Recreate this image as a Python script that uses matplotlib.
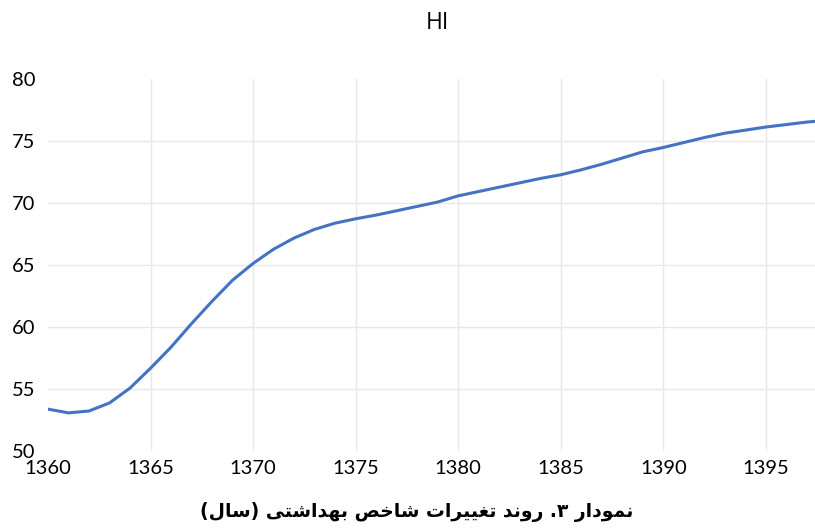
import matplotlib
matplotlib.use("Agg")
import matplotlib.pyplot as plt

# HI index per year
years = [1360, 1361, 1362, 1363, 1364, 1365, 1366, 1367, 1368, 1369,
         1370, 1371, 1372, 1373, 1374, 1375, 1376, 1377, 1378, 1379,
         1380, 1381, 1382, 1383, 1384, 1385, 1386, 1387, 1388, 1389,
         1390, 1391, 1392, 1393, 1394, 1395, 1396, 1397, 1398]
hi = [53.4, 53.1, 53.25, 53.9, 55.1, 56.7, 58.4, 60.3, 62.1, 63.8,
      65.15, 66.3, 67.2, 67.9, 68.4, 68.75, 69.05, 69.4, 69.75, 70.1,
      70.6, 70.95, 71.3, 71.65, 72.0, 72.3, 72.7, 73.15, 73.65, 74.15,
      74.5, 74.9, 75.3, 75.65, 75.9, 76.15, 76.35, 76.55, 76.7]
x_ticks = [1360, 1365, 1370, 1375, 1380, 1385, 1390, 1395]
y_ticks = [50, 55, 60, 65, 70, 75, 80]

title = "HI"
caption = "نمودار ۳. روند تغییرات شاخص بهداشتی (سال)"

# matplotlib has no arabic shaping, so do it by hand: (iso, fin, ini, med)
FORMS = {
    "ا": (0xFE8D, 0xFE8E, None, None),
    "ب": (0xFE8F, 0xFE90, 0xFE91, 0xFE92),
    "ت": (0xFE95, 0xFE96, 0xFE97, 0xFE98),
    "خ": (0xFEA5, 0xFEA6, 0xFEA7, 0xFEA8),
    "د": (0xFEA9, 0xFEAA, None, None),
    "ر": (0xFEAD, 0xFEAE, None, None),
    "س": (0xFEB1, 0xFEB2, 0xFEB3, 0xFEB4),
    "ش": (0xFEB5, 0xFEB6, 0xFEB7, 0xFEB8),
    "ص": (0xFEB9, 0xFEBA, 0xFEBB, 0xFEBC),
    "غ": (0xFECD, 0xFECE, 0xFECF, 0xFED0),
    "ل": (0xFEDD, 0xFEDE, 0xFEDF, 0xFEE0),
    "م": (0xFEE1, 0xFEE2, 0xFEE3, 0xFEE4),
    "ن": (0xFEE5, 0xFEE6, 0xFEE7, 0xFEE8),
    "ه": (0xFEE9, 0xFEEA, 0xFEEB, 0xFEEC),
    "و": (0xFEED, 0xFEEE, None, None),
    "ی": (0xFEEF, 0xFEF0, 0xFEF3, 0xFEF4),
}


def shape_rtl(text):
    out = []
    for i, ch in enumerate(text):
        if ch not in FORMS:
            out.append(ch)
            continue
        prev = text[i - 1] if i > 0 else ""
        nxt = text[i + 1] if i + 1 < len(text) else ""
        join_prev = prev in FORMS and FORMS[prev][2] is not None
        join_next = nxt in FORMS and FORMS[ch][2] is not None
        iso, fin, ini, med = FORMS[ch]
        if join_prev and join_next:
            out.append(chr(med))
        elif join_prev:
            out.append(chr(fin))
        elif join_next:
            out.append(chr(ini))
        else:
            out.append(chr(iso))
    vis = "".join(reversed(out))
    return vis.translate(str.maketrans("()", ")("))


W, H = 815, 529
fig = plt.figure(figsize=(W / 100, H / 100), dpi=100)
ax = fig.add_axes([48 / W, (H - 451.3) / H, 1 - 48 / W, (451.3 - 79.3) / H])

ax.plot(years, hi, color="#4472C4", linewidth=2.2, solid_capstyle="round",
        solid_joinstyle="round", zorder=3)

ax.set_xlim(1360, 1397.4)
ax.set_ylim(50, 80)
ax.set_xticks(x_ticks)
ax.set_yticks(y_ticks)
ax.grid(True, color="#e8e8e8", linewidth=1.0, zorder=0)
# excel leaves out the border lines
ax.xaxis.get_gridlines()[0].set_visible(False)
ax.yaxis.get_gridlines()[0].set_visible(False)
ax.yaxis.get_gridlines()[-1].set_visible(False)
for s in ax.spines.values():
    s.set_visible(False)
ax.tick_params(length=0, labelsize=14.5, colors="black")
ax.tick_params(axis="y", pad=9)
ax.tick_params(axis="x", pad=6)
for lab in ax.get_xticklabels() + ax.get_yticklabels():
    lab.set_family(["Lato", "DejaVu Sans"])

fig.text(437 / W, 1 - 23 / H, title, ha="center", va="center",
         fontsize=16.5, family=["Open Sans", "DejaVu Sans"], color="black")
fig.text(417 / W, 1 - 512 / H, shape_rtl(caption), ha="center", va="center",
         fontsize=13.5, fontweight="bold", family=["DejaVu Sans"], color="black")

fig.savefig("out.png", dpi=100)
